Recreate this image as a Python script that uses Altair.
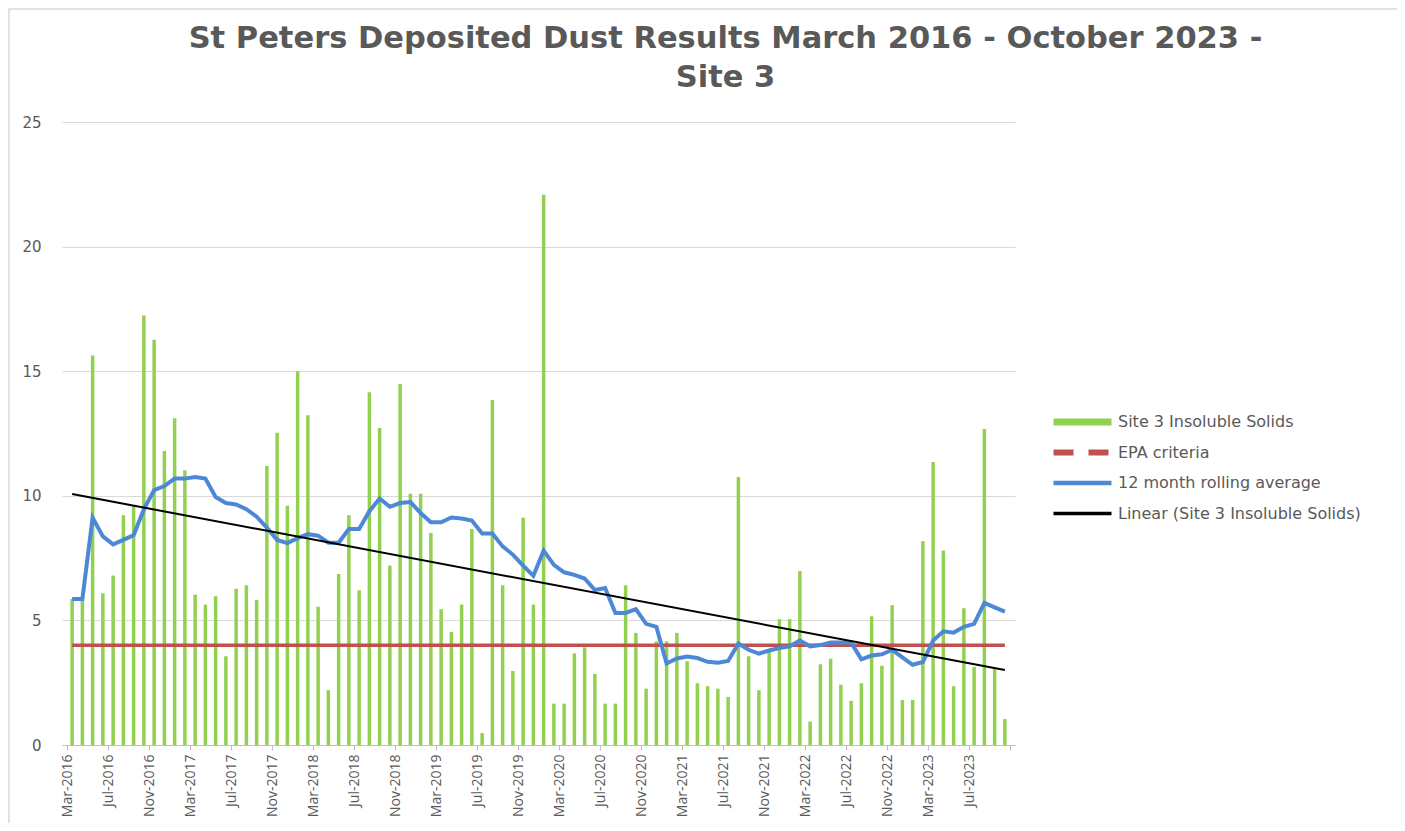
import json
import altair as alt
import pandas as pd

# ---- data ----
MONTHS = list(pd.date_range("2016-03-01", periods=92, freq="MS").strftime("%b-%Y"))

INSOLUBLE = [
    5.86, 5.8, 15.63, 6.09, 6.8, 9.22, 9.59, 17.24, 16.26, 11.8,
    13.11, 11.03, 6.03, 5.64, 5.97, 3.56, 6.27, 6.41, 5.82, 11.2,
    12.53, 9.6, 15.0, 13.23, 5.55, 2.2, 6.86, 9.22, 6.21, 14.16,
    12.72, 7.2, 14.49, 10.08, 10.08, 8.51, 5.45, 4.54, 5.64, 8.67,
    0.48, 13.84, 6.41, 2.97, 9.12, 5.64, 22.08, 1.66, 1.66, 3.68,
    3.92, 2.85, 1.66, 1.66, 6.41, 4.5, 2.26, 4.16, 4.16, 4.5,
    3.36, 2.48, 2.36, 2.26, 1.93, 10.75, 3.56, 2.2, 3.8, 5.05,
    5.05, 6.98, 0.94, 3.24, 3.46, 2.42, 1.77, 2.48, 5.17, 3.18,
    5.61, 1.81, 1.81, 8.18, 11.36, 7.8, 2.36, 5.49, 3.13, 12.68,
    3.07, 1.04,
]

ROLLING = [
    5.86, 5.86, 9.12, 8.37, 8.05, 8.23, 8.42, 9.46, 10.23, 10.39,
    10.69, 10.69, 10.75, 10.69, 9.95, 9.71, 9.65, 9.46, 9.16, 8.72,
    8.23, 8.1, 8.3, 8.46, 8.4, 8.12, 8.12, 8.67, 8.67, 9.38,
    9.89, 9.56, 9.71, 9.75, 9.31, 8.94, 8.94, 9.13, 9.09, 9.01,
    8.49, 8.49, 7.97, 7.64, 7.2, 6.79, 7.8, 7.23, 6.93, 6.83,
    6.68, 6.22, 6.3, 5.3, 5.3, 5.45, 4.86, 4.74, 3.27, 3.47,
    3.55, 3.49, 3.34, 3.3, 3.37, 4.07, 3.82, 3.67, 3.79, 3.89,
    3.96, 4.19, 3.96, 4.01, 4.11, 4.11, 4.11, 3.44, 3.59, 3.64,
    3.82, 3.52, 3.22, 3.33, 4.19, 4.56, 4.51, 4.74, 4.86, 5.7,
    5.52, 5.35,
]

EPA = 4
TICK_LABELS = MONTHS[::4]
SERIES = [
    "Site 3 Insoluble Solids",
    "EPA criteria",
    "12 month rolling average",
    "Linear (Site 3 Insoluble Solids)",
]
COLORS = ["#92D050", "#C0504D", "#4D88D6", "#000000"]

FONT = "Open Sans"
WIDE = "DejaVu Sans"
GREY = "#595959"

df = pd.DataFrame({
    "month": MONTHS,
    "xc": [i + 0.5 for i in range(len(MONTHS))],
    "val": INSOLUBLE,
    "roll": ROLLING,
})

label_expr = json.dumps(TICK_LABELS) + "[round(datum.value/4)] || ''"

x_enc = alt.X(
    "xc:Q",
    scale=alt.Scale(domain=[0, 92], nice=False, zero=False),
    axis=alt.Axis(
        values=list(range(0, 93, 4)),
        labelExpr=label_expr,
        labelAngle=-90,
        labelAlign="right",
        labelBaseline="middle",
        labelFont=FONT,
        labelFontSize=14,
        labelColor=GREY,
        labelPadding=4,
        tickSize=5,
        tickColor="#BFBFBF",
        domainColor="#BFBFBF",
        grid=False,
        title=None,
        labelOverlap=False,
    ),
)

y_enc = alt.Y(
    "val:Q",
    scale=alt.Scale(domain=[0, 25], nice=False),
    axis=alt.Axis(
        values=[0, 5, 10, 15, 20, 25],
        labelFont=WIDE,
        labelFontSize=15,
        labelColor=GREY,
        labelPadding=21,
        ticks=False,
        domain=False,
        gridColor="#D9D9D9",
        title=None,
    ),
)

base = alt.Chart(df)

bars = base.mark_bar(color=COLORS[0], size=3.5).encode(x=x_enc, y=y_enc)

epa = base.mark_line(color=COLORS[1], strokeWidth=3.5).encode(
    x="xc:Q", y=alt.Y(datum=EPA)
)

roll = base.mark_line(color=COLORS[2], strokeWidth=4).encode(
    x="xc:Q", y="roll:Q"
)

trend = (
    base.transform_regression("xc", "val", method="linear")
    .mark_line(color=COLORS[3], strokeWidth=2)
    .encode(x="xc:Q", y="val:Q")
)

leg = alt.Legend(
    orient="none",
    legendX=988,
    legendY=290,
    title=None,
    symbolType="stroke",
    symbolSize=3364,
    clipHeight=20,
    rowPadding=10.5,
    labelFont=WIDE,
    labelFontSize=16,
    labelColor=GREY,
    labelOffset=3,
    labelLimit=400,
)

legend_layer = alt.Chart(
    pd.DataFrame({"series": SERIES})
).mark_line().encode(
    x=alt.value(0),
    y=alt.value(0),
    color=alt.Color("series:N", scale=alt.Scale(domain=SERIES, range=COLORS), legend=leg),
    strokeDash=alt.StrokeDash(
        "series:N",
        scale=alt.Scale(domain=SERIES, range=[[1, 0], [20, 15], [1, 0], [1, 0]]),
        legend=leg,
    ),
    strokeWidth=alt.StrokeWidth(
        "series:N",
        scale=alt.Scale(domain=SERIES, range=[7, 3.5, 4, 2]),
        legend=leg,
    ),
)

# light grey chart frame (decoration)
border = alt.Chart(pd.DataFrame({"series": ["frame"]})).mark_rect(
    fill=None, stroke="#D9D9D9", strokeWidth=1.5
).encode(
    x=alt.value(-53), x2=alt.value(1336), y=alt.value(-113), y2=alt.value(706)
)

chart = (
    alt.layer(border, bars, epa, roll, trend, legend_layer)
    .properties(
        width=953,
        height=623,
        padding={"left": 54, "top": 114, "right": 382, "bottom": 78},
        autosize=alt.AutoSizeParams(type="none"),
        title=alt.TitleParams(
            text=["St Peters Deposited Dust Results March 2016 - October 2023 -", "Site 3"],
            font=WIDE,
            fontSize=30.5,
            fontWeight="bold",
            color=GREY,
            anchor="middle",
            dx=187,
            offset=0,
            dy=85,
            lineHeight=39,
        ),
    )
    .configure_view(strokeWidth=0)
)

chart.save("out.html", embed_options={"renderer": "svg", "actions": False})
